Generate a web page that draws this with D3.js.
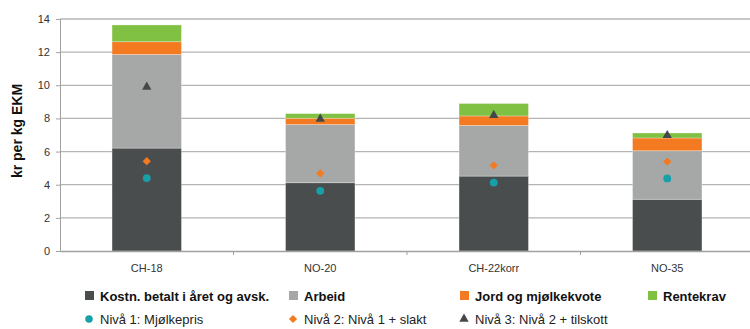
<!DOCTYPE html>
<html><head><meta charset="utf-8">
<script src="https://cdn.jsdelivr.net/npm/d3@7"></script>
<style>body{margin:0;background:#fff}svg{display:block}</style>
</head><body>
<svg id="c" width="750" height="329"></svg>
<script>
const categories = ["CH-18", "NO-20", "CH-22korr", "NO-35"];
const seriesNames = ["Kostn. betalt i året og avsk.", "Arbeid", "Jord og mjølkekvote", "Rentekrav"];
const kostn = [6.21, 4.12, 4.52, 3.12];
const arbeid = [5.65, 3.51, 3.06, 2.93];
const jord = [0.77, 0.38, 0.57, 0.77];
const rentekrav = [1.01, 0.28, 0.75, 0.30];
const markerNames = ["Nivå 1: Mjølkepris", "Nivå 2: Nivå 1 + slakt", "Nivå 3: Nivå 2 + tilskott"];
const niva1 = [4.40, 3.63, 4.13, 4.38];
const niva2 = [5.42, 4.68, 5.16, 5.40];
const niva3 = [9.90, 7.97, 8.19, 6.98];
const yTicks = [0, 2, 4, 6, 8, 10, 12, 14];

const colors = ["#4a4d4e", "#a6a8a8", "#f37a21", "#80c143"];
const mColors = ["#17a0a8", "#f37a21", "#45484a"];

const svg = d3.select("#c");
const m = {l: 60, t: 19, r: -4, b: 78};
const W = 750 - m.l - m.r, H = 329 - m.t - m.b;
const g = svg.append("g").attr("transform", `translate(${m.l},${m.t})`);

const x = d3.scaleBand().domain(categories).range([0, W]).paddingInner(0).paddingOuter(0);
const y = d3.scaleLinear().domain([0, 14]).range([H, 0]);

// gridlines
g.selectAll(".grid").data(yTicks.filter(d => d > 0)).join("line")
  .attr("x1", 0).attr("x2", W).attr("y1", d => y(d)).attr("y2", d => y(d))
  .attr("stroke", "#b4b4b4").attr("stroke-width", 1.3);

// stacked bars
const data = categories.map((c, i) => ({cat: c, s0: kostn[i], s1: arbeid[i], s2: jord[i], s3: rentekrav[i]}));
const stack = d3.stack().keys(["s0", "s1", "s2", "s3"])(data);
const bw = x.bandwidth() * 0.4;
stack.forEach((layer, k) => {
  g.selectAll(".l" + k).data(layer).join("rect")
    .attr("x", d => x(d.data.cat) + (x.bandwidth() - bw) / 2)
    .attr("width", bw)
    .attr("y", d => y(d[1]))
    .attr("height", d => y(d[0]) - y(d[1]))
    .attr("fill", colors[k])
    .attr("stroke", "rgba(255,255,255,0.35)").attr("stroke-width", 0.8);
});

const font = "Liberation Sans, Arial, sans-serif";
// y axis
const ya = g.append("g").call(d3.axisLeft(y).tickValues(yTicks).tickSize(4).tickPadding(6).tickFormat(d3.format("d")));
ya.select(".domain").attr("stroke", "#a0a0a0");
ya.selectAll(".tick line").attr("stroke", "#a0a0a0");
ya.selectAll("text").attr("font-family", font).attr("font-size", 11).attr("fill", "#333");

// x axis
const xa = g.append("g").attr("transform", `translate(0,${H})`).call(d3.axisBottom(x).tickSize(0).tickPadding(13));
xa.select(".domain").attr("stroke", "#a0a0a0").attr("stroke-width", 1.3);
xa.selectAll("text").attr("font-family", font).attr("font-size", 11).attr("fill", "#333");
g.selectAll(".xt").data(categories.slice(1)).join("line")
  .attr("x1", d => x(d)).attr("x2", d => x(d)).attr("y1", H).attr("y2", H + 4)
  .attr("stroke", "#a0a0a0");

// markers
const cx = c => x(c) + x.bandwidth() / 2;
const circ = d3.symbol().type(d3.symbolCircle).size(48);
const dia = d3.symbol().type(d3.symbolSquare).size(34);
const tri = d3.symbol().type(d3.symbolTriangle).size(38);
g.selectAll(".m1").data(niva1).join("path")
  .attr("d", circ).attr("transform", (d, i) => `translate(${cx(categories[i])},${y(d)})`).attr("fill", mColors[0]);
g.selectAll(".m2").data(niva2).join("path")
  .attr("d", dia).attr("transform", (d, i) => `translate(${cx(categories[i])},${y(d)}) rotate(45)`).attr("fill", mColors[1]);
g.selectAll(".m3").data(niva3).join("path")
  .attr("d", tri).attr("transform", (d, i) => `translate(${cx(categories[i])},${y(d)})`).attr("fill", mColors[2]);

// y title
svg.append("text").attr("transform", "translate(22,131) rotate(-90)")
  .attr("text-anchor", "middle").attr("font-family", font)
  .attr("font-weight", "bold").attr("font-size", 14).attr("fill", "#111").text("kr per kg EKM");

// legend
const lx = [89, 293, 464, 652];
seriesNames.forEach((n, i) => {
  const gg = svg.append("g").attr("transform", `translate(${lx[i]},296)`);
  gg.append("rect").attr("x", -4).attr("y", -5).attr("width", 9).attr("height", 9).attr("fill", colors[i]);
  gg.append("text").attr("x", 11).attr("y", 5).attr("font-family", font).attr("font-weight", "bold")
    .attr("font-size", 13).attr("fill", "#111").text(n);
});
const mk = [[d3.symbolCircle, 44, 0], [d3.symbolSquare, 34, 45], [d3.symbolTriangle, 38, 0]];
markerNames.forEach((n, i) => {
  const gg = svg.append("g").attr("transform", `translate(${lx[i]},319)`);
  gg.append("path").attr("d", d3.symbol().type(mk[i][0]).size(mk[i][1]))
    .attr("transform", `rotate(${mk[i][2]})`).attr("fill", mColors[i]);
  gg.append("text").attr("x", 11).attr("y", 5).attr("font-family", font)
    .attr("font-size", 13).attr("fill", "#222").text(n);
});
</script>
</body></html>
